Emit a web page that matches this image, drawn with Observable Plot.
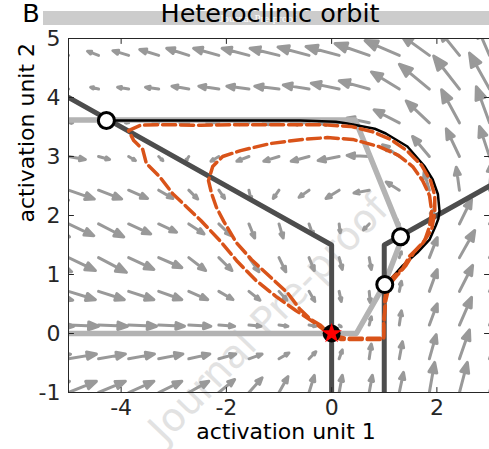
<!DOCTYPE html>
<html>
<head>
<meta charset="utf-8">
<script src="https://cdn.jsdelivr.net/npm/d3@7"></script>
<script src="https://cdn.jsdelivr.net/npm/@observablehq/plot@0.6"></script>
<style>
  body { margin: 0; background: #fff; }
  svg { display: block; }
</style>
</head>
<body>
<div id="chart"></div>
<script>
// ---------- data ----------
const titleText = "Heteroclinic orbit";
const panelLetter = "B";
const xLabel = "activation unit 1";
const yLabel = "activation unit 2";
const watermark = "Journal Pre-proof";

const xDomain = [-5, 3];
const yDomain = [-1, 5];
const xTicks = [-4, -2, 0, 2];
const yTicks = [-1, 0, 1, 2, 3, 4, 5];

// quiver grid (tails of arrows)
const gridX = [-5.571, -5, -4.429, -3.857, -3.286, -2.714, -2.143, -1.571, -1, -0.429, 0.143, 0.714, 1.286, 1.857, 2.429, 3];
const gridY = [-1, -0.429, 0.143, 0.714, 1.286, 1.857, 2.429, 3, 3.571, 4.143, 4.714];

// drawn arrow components (data units), one row per gridY, one column per gridX
const U = [
  [0.59, 0.53, 0.51, 0.48, 0.44, 0.38, 0.30, 0.25, 0.17, 0.10, 0.06, 0.06, 0.08, 0.10, 0.15, 0.19],
  [0.61, 0.53, 0.51, 0.49, 0.46, 0.40, 0.32, 0.25, 0.19, 0.13, 0.06, 0.04, 0.06, 0.13, 0.19, 0.23],
  [0.67, 0.57, 0.55, 0.53, 0.49, 0.42, 0.30, 0.23, 0.17, 0.13, 0.04, 0.04, 0.04, 0.15, 0.23, 0.27],
  [0.65, 0.51, 0.49, 0.48, 0.44, 0.36, 0.27, 0.21, 0.15, 0.11, 0.04, 0.02, 0.04, 0.15, 0.25, 0.30],
  [0.63, 0.51, 0.53, 0.48, 0.44, 0.32, 0.25, 0.19, 0.13, 0.10, 0.06, 0.04, 0.04, 0.15, 0.29, 0.34],
  [0.59, 0.48, 0.48, 0.42, 0.34, 0.29, 0.23, 0.11, 0.08, 0.08, 0.02, -0.11, -0.08, 0.08, 0.23, 0.34],
  [0.57, 0.49, 0.44, 0.36, 0.27, 0.17, 0.11, 0.04, -0.11, -0.19, -0.25, -0.29, -0.25, -0.10, -0.06, 0.04],
  [0.42, 0.32, 0.21, 0.13, 0.08, -0.06, -0.15, -0.23, -0.29, -0.34, -0.40, -0.42, -0.32, -0.32, -0.25, -0.19],
  [0.15, 0.08, 0.02, -0.06, -0.11, -0.17, -0.23, -0.27, -0.30, -0.34, -0.38, -0.42, -0.48, -0.44, -0.34, -0.25],
  [0.04, -0.08, -0.15, -0.21, -0.25, -0.32, -0.38, -0.42, -0.46, -0.49, -0.53, -0.57, -0.53, -0.57, -0.49, -0.38],
  [-0.04, -0.08, -0.21, -0.30, -0.36, -0.42, -0.48, -0.51, -0.55, -0.59, -0.63, -0.65, -0.65, -0.53, -0.38, -0.23]
];
const V = [
  [0.19, 0.19, 0.19, 0.19, 0.19, 0.19, 0.22, 0.25, 0.27, 0.29, 0.29, 0.29, 0.34, 0.51, 0.51, 0.61],
  [0.08, 0.08, 0.08, 0.08, 0.08, 0.08, 0.08, 0.08, 0.10, 0.12, 0.15, 0.25, 0.29, 0.41, 0.49, 0.58],
  [-0.02, -0.02, -0.02, -0.02, -0.02, -0.02, -0.02, -0.02, -0.02, -0.02, -0.03, 0.14, 0.24, 0.36, 0.47, 0.54],
  [-0.15, -0.14, -0.14, -0.14, -0.14, -0.14, -0.14, -0.15, -0.15, -0.17, -0.17, -0.19, 0.17, 0.37, 0.44, 0.51],
  [-0.24, -0.22, -0.25, -0.20, -0.17, -0.22, -0.22, -0.24, -0.24, -0.22, -0.20, -0.20, 0.10, 0.34, 0.46, 0.51],
  [-0.22, -0.20, -0.22, -0.17, -0.14, -0.17, -0.20, -0.24, -0.24, -0.20, -0.15, -0.10, 0.10, 0.25, 0.42, 0.51],
  [-0.17, -0.15, -0.15, -0.14, -0.14, -0.15, -0.14, -0.17, -0.14, -0.12, -0.14, -0.05, 0.14, 0.31, 0.39, 0.47],
  [-0.05, -0.05, -0.05, -0.07, -0.07, -0.08, -0.08, -0.08, -0.08, -0.08, -0.07, 0.02, 0.20, 0.34, 0.47, 0.51],
  [0, 0, 0, 0, 0, 0, 0, 0, 0, 0, 0, 0.08, 0.22, 0.37, 0.56, 0.61],
  [0.02, 0.02, 0.03, 0.03, 0.03, 0.05, 0.05, 0.05, 0.05, 0.07, 0.10, 0.14, 0.29, 0.42, 0.56, 0.61],
  [0.03, 0.03, 0.07, 0.08, 0.10, 0.12, 0.12, 0.12, 0.12, 0.14, 0.15, 0.20, 0.25, 0.34, 0.42, 0.47]
];

// nullclines
const nullX1a = [[-5, 4.0], [0, 1.5], [0, -1]];
const nullX1b = [[1, -1], [1, 1.5], [3, 2.5]];
const nullX2 = [[-5, 3.62], [0.45, 3.62], [1.35, 1.64], [1.0, 0.83], [0.47, 0], [-5, 0]];

// heteroclinic connection
const orbit = [[-4.28, 3.61], [-2.49, 3.61], [-0.59, 3.61], [0.08, 3.59], [0.30, 3.56], [0.82, 3.47], [1.03, 3.39],
  [1.44, 3.17], [1.77, 2.83], [1.92, 2.61], [2.02, 2.36], [2.05, 2.08], [2.03, 1.95], [1.98, 1.83], [1.86, 1.59],
  [1.63, 1.37], [1.35, 1.15], [1.10, 0.90], [1.03, 0.83]];

// simulated trajectories
const traj1 = [[0.00, -0.05], [0.17, -0.10], [0.55, -0.10], [0.99, -0.10], [0.99, 0.14], [1.01, 0.36], [1.01, 0.59],
  [1.06, 0.80], [1.18, 0.97], [1.35, 1.10], [1.48, 1.31], [1.73, 1.53], [1.90, 1.76], [1.96, 2.05], [1.96, 2.34],
  [1.88, 2.59], [1.71, 2.85], [1.43, 3.10], [1.12, 3.29], [0.78, 3.42], [0.36, 3.51], [-0.21, 3.54], [-0.97, 3.54],
  [-1.73, 3.54], [-2.49, 3.53], [-3.25, 3.54], [-3.63, 3.53], [-3.86, 3.44], [-3.76, 3.27], [-3.59, 3.12],
  [-3.52, 2.88], [-3.27, 2.66], [-3.02, 2.37], [-2.76, 2.15], [-2.49, 1.92], [-2.13, 1.58], [-1.79, 1.22],
  [-1.44, 0.90], [-1.06, 0.63], [-0.68, 0.39], [-0.34, 0.19], [-0.08, 0.02]];
const traj2 = [[0.00, -0.03], [0.27, -0.08], [0.99, -0.08], [0.99, 0.22], [1.03, 0.56], [1.10, 0.83], [1.24, 0.98],
  [1.41, 1.15], [1.56, 1.37], [1.77, 1.58], [1.86, 1.81], [1.90, 2.08], [1.86, 2.34], [1.73, 2.59], [1.54, 2.83],
  [1.27, 3.02], [0.89, 3.17], [0.40, 3.29], [-0.08, 3.32], [-0.55, 3.29], [-1.16, 3.22], [-1.73, 3.10],
  [-2.07, 3.00], [-2.26, 2.83], [-2.34, 2.59], [-2.28, 2.37], [-2.19, 2.14], [-2.05, 1.90], [-1.81, 1.54],
  [-1.52, 1.25], [-1.18, 0.97], [-0.84, 0.69], [-0.61, 0.42], [-0.40, 0.24], [-0.21, 0.14], [-0.04, 0.00]];

// fixed points
const saddles = [[-4.28, 3.61], [1.31, 1.64], [1.01, 0.83]];
const start = [[0, 0]];

// ---------- layout ----------
const W = 489, H = 449;
const mL = 68, mR = 0, mT = 38, mB = 57;
const kx = (W - mL - mR) / (xDomain[1] - xDomain[0]);
const ky = (H - mT - mB) / (yDomain[1] - yDomain[0]);

const field = gridY.flatMap((y, j) => gridX.map((x, i) => ({x, y, u: U[j][i], v: V[j][i]})));

// MATLAB-like quiver arrow: head about 1/3 of the length
const quiverShape = {
  draw(ctx, l) {
    const h = 0.33 * l, w = 0.13 * l;
    ctx.moveTo(0, 0); ctx.lineTo(0, -l + 0.5 * h);
    ctx.moveTo(-w, -l + h); ctx.lineTo(0, -l); ctx.lineTo(w, -l + h); ctx.closePath();
  }
};
const tickShape = { draw(ctx, l) { ctx.moveTo(0, 0); ctx.lineTo(0, -l); } };
const axisColor = "#262626";
const arrowColor = "#999999";
const fmt = d => String(d);

const plot = Plot.plot({
  width: W, height: H,
  marginLeft: mL, marginRight: mR, marginTop: mT, marginBottom: mB,
  x: {domain: xDomain},
  y: {domain: yDomain},
  length: {type: "identity"},
  style: {fontFamily: "DejaVu Sans", fontSize: "22px", color: axisColor, background: "white"},
  marks: [
    Plot.vector(field, {
      x: "x", y: "y",
      length: d => Math.hypot(d.u * kx, d.v * ky),
      rotate: d => Math.atan2(d.u * kx, d.v * ky) * 180 / Math.PI,
      anchor: "start", shape: quiverShape,
      stroke: arrowColor, fill: arrowColor, strokeWidth: 3, clip: true
    }),
    Plot.line(nullX2, {stroke: "#b3b3b3", strokeWidth: 5.5, clip: true}),
    Plot.line(nullX1a, {stroke: "#4d4d4d", strokeWidth: 5, clip: true}),
    Plot.line(nullX1b, {stroke: "#4d4d4d", strokeWidth: 5, clip: true}),
    Plot.line(orbit, {stroke: "black", strokeWidth: 2.5, clip: true}),
    Plot.line(traj1, {stroke: "#D95319", strokeWidth: 3.5, strokeDasharray: "13,5", clip: true}),
    Plot.line(traj2, {stroke: "#D95319", strokeWidth: 3.5, strokeDasharray: "13,5", clip: true}),
    Plot.dot(saddles, {r: 8, fill: "white", stroke: "black", strokeWidth: 3}),
    Plot.dot(start, {r: 9, fill: "black", stroke: null}),
    Plot.dot(start, {r: 6.5, symbol: "star", fill: "red", stroke: null}),
    Plot.frame({stroke: axisColor, strokeWidth: 1}),
    // inward tick marks (box axes)
    Plot.vector(xTicks, {x: d => d, y: yDomain[0], length: 5, rotate: 0, anchor: "start", shape: tickShape, stroke: axisColor, strokeWidth: 1}),
    Plot.vector(xTicks, {x: d => d, y: yDomain[1], length: 5, rotate: 180, anchor: "start", shape: tickShape, stroke: axisColor, strokeWidth: 1}),
    Plot.vector(yTicks, {x: xDomain[0], y: d => d, length: 5, rotate: 90, anchor: "start", shape: tickShape, stroke: axisColor, strokeWidth: 1}),
    Plot.vector(yTicks, {x: xDomain[1], y: d => d, length: 5, rotate: -90, anchor: "start", shape: tickShape, stroke: axisColor, strokeWidth: 1}),
    Plot.axisX({ticks: xTicks, tickSize: 0, tickPadding: 7, tickFormat: fmt, fontSize: 22, label: null}),
    Plot.axisY({ticks: yTicks, tickSize: 0, tickPadding: 8, tickFormat: fmt, fontSize: 22, label: null}),
    Plot.text([xLabel], {frameAnchor: "bottom", dx: 7, dy: 46, fontSize: 22, fill: "black"}),
    Plot.text([yLabel], {frameAnchor: "left", dx: -42, dy: 7, rotate: -90, fontSize: 22, fill: "black"})
  ]
});

const svg = d3.select(plot);
// faint watermark underneath everything
svg.insert("text", ":first-child")
  .attr("transform", "translate(268,318) rotate(-46)")
  .attr("text-anchor", "middle").attr("dominant-baseline", "central")
  .attr("font-family", "DejaVu Sans").attr("font-weight", 400)
  .attr("font-size", 39).attr("fill", "#e2e2e2")
  .text(watermark);
svg.insert("rect", ":first-child").attr("x", 0).attr("y", 0).attr("width", W).attr("height", H).attr("fill", "white");

// title bar
svg.append("rect").attr("x", 43).attr("y", 11).attr("width", W - 43).attr("height", 14).attr("fill", "#cccccc");
svg.append("text").attr("x", 258).attr("y", 22).attr("text-anchor", "middle")
  .attr("font-family", "Liberation Serif").attr("font-size", 11).attr("fill", "white").text(watermark);
svg.append("text").attr("x", 270).attr("y", 22).attr("text-anchor", "middle")
  .attr("font-family", "DejaVu Sans").attr("font-size", 25.5).attr("fill", "black").text(titleText);
svg.append("text").attr("x", 31).attr("y", 22)
  .attr("font-family", "DejaVu Sans").attr("font-size", 25.5).attr("fill", "black").text(panelLetter);

document.getElementById("chart").appendChild(plot);
</script>
</body>
</html>
